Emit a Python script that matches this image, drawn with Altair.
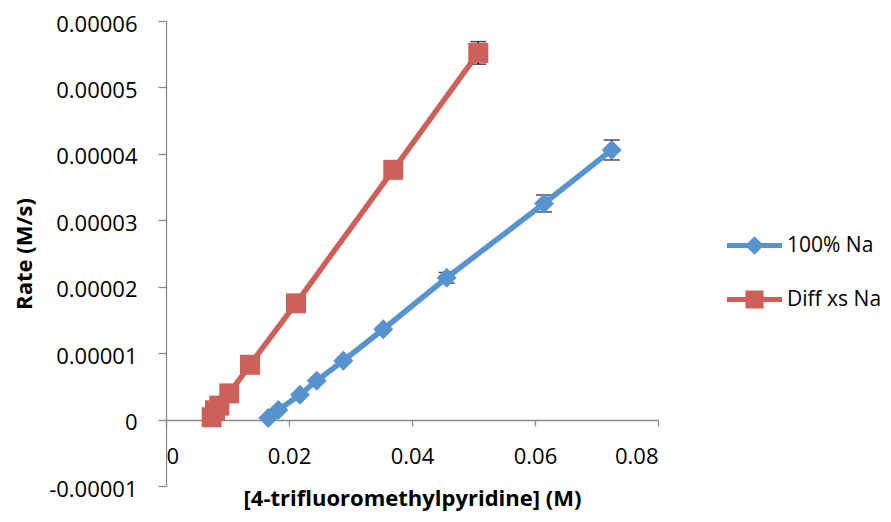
import altair as alt
import pandas as pd

# ---- data ----
blue_name = "100% Na"
blue_x = [0.01663, 0.01826, 0.02179, 0.02450, 0.02883, 0.03533, 0.04564, 0.06146, 0.07247]
blue_y = [0.25e-6, 1.45e-6, 3.75e-6, 5.85e-6, 8.85e-6, 13.6e-6, 21.35e-6, 32.53e-6, 40.58e-6]
blue_err = [0, 0, 0, 0, 0, 0, 0.8e-6, 1.27e-6, 1.5e-6]

red_name = "Diff xs Na"
red_x = [0.00743, 0.00797, 0.00867, 0.01029, 0.01366, 0.02114, 0.03696, 0.05078]
red_y = [0.35e-6, 1.4e-6, 2.1e-6, 3.94e-6, 8.25e-6, 17.5e-6, 37.6e-6, 55.2e-6]
red_err = [0, 0, 0, 0, 0, 0, 0, 1.7e-6]

x_ticks = [0, 0.02, 0.04, 0.06, 0.08]
y_ticks = [-0.00001, 0, 0.00001, 0.00002, 0.00003, 0.00004, 0.00005, 0.00006]

BLUE = "#5794CF"
RED = "#CD6058"
FONT = "Open Sans"
FS = 22

Y_SCALE = alt.Scale(domain=[-0.00001, 0.00006], nice=False, zero=False)

x_enc = alt.X(
    "x:Q",
    scale=alt.Scale(domain=[0, 0.08], nice=False, zero=False),
    axis=alt.Axis(
        values=x_ticks, format=".2~f", offset=-66, tickSize=6, labelPadding=20,
        labelBaseline="top", grid=False,
        title="[4-trifluoromethylpyridine] (M)", titleY=85, titleBaseline="alphabetic",
        titleFontWeight="bold",
    ),
)
y_enc = alt.Y(
    "y:Q",
    scale=Y_SCALE,
    axis=alt.Axis(
        values=y_ticks,
        labelExpr="datum.value < 0 ? '-' + format(-datum.value, '.5~f') : format(datum.value, '.5~f')",
        tickSize=8, labelPadding=21, labelOffset=3, grid=False,
        title="Rate (M/s)", titleX=-135, titleBaseline="alphabetic", titleAngle=-90,
        titleFontWeight="bold",
    ),
)

DIAMOND_LEG = "M-1,-0.09L1,-0.09L1,0.09L-1,0.09ZM0,-0.34L0.34,0L0,0.34L-0.34,0Z"
SQUARE_LEG = "M-1,-0.09L1,-0.09L1,0.09L-1,0.09ZM-0.33,-0.33L0.33,-0.33L0.33,0.33L-0.33,0.33Z"


def series(name, xs, ys, errs, color, shape, legend_path, legend_y):
    df = pd.DataFrame({
        "x": xs, "y": ys,
        "lo": [y - e for y, e in zip(ys, errs)],
        "hi": [y + e for y, e in zip(ys, errs)],
        "err": errs,
        "series": [name] * len(xs),
    })
    base = alt.Chart(df)
    err = base.transform_filter("datum.err > 0")
    rule = err.mark_rule(color="black", strokeWidth=1.5).encode(
        x=x_enc, y=alt.Y("lo:Q", scale=Y_SCALE), y2="hi:Q"
    )
    cap_lo = err.mark_tick(color="black", orient="horizontal", size=16, thickness=1.5).encode(
        x=x_enc, y=alt.Y("lo:Q", scale=Y_SCALE)
    )
    cap_hi = err.mark_tick(color="black", orient="horizontal", size=16, thickness=1.5).encode(
        x=x_enc, y=alt.Y("hi:Q", scale=Y_SCALE)
    )
    line = base.mark_line(color=color, strokeWidth=5.5, strokeCap="round", strokeJoin="round").encode(
        x=x_enc, y=y_enc
    )
    pts = base.mark_point(shape=shape, filled=True, size=400, opacity=1).encode(
        x=x_enc, y=y_enc,
        color=alt.Color(
            "series:N",
            scale=alt.Scale(domain=[name], range=[color]),
            legend=alt.Legend(
                title=None, orient="none", legendX=561, legendY=legend_y,
                symbolType=legend_path, symbolSize=3025, symbolStrokeWidth=0,
                symbolOpacity=1, symbolFillColor=color,
                labelFont=FONT, labelFontSize=21, labelColor="black",
                labelOffset=5, padding=0, rowPadding=0,
            ),
        ),
    )
    return alt.layer(rule, cap_lo, cap_hi, line, pts)


chart = alt.layer(
    series(blue_name, blue_x, blue_y, blue_err, BLUE, "diamond", DIAMOND_LEG, 197),
    series(red_name, red_x, red_y, red_err, RED, "square", SQUARE_LEG, 251),
).resolve_scale(color="independent").properties(
    width=492, height=465,
    autosize=alt.AutoSizeParams(type="none"),
    padding={"left": 158, "top": 13, "right": 225, "bottom": 26},
    background="white",
).configure_view(stroke=None).configure_axis(
    labelFont=FONT, labelFontSize=FS, labelColor="black",
    titleFont=FONT, titleFontSize=FS, titleColor="black",
    domainColor="#8a8a8a", tickColor="#8a8a8a", domainWidth=1.3, tickWidth=1.3,
)

chart.save("out.html", embed_options={"renderer": "svg", "actions": False})
